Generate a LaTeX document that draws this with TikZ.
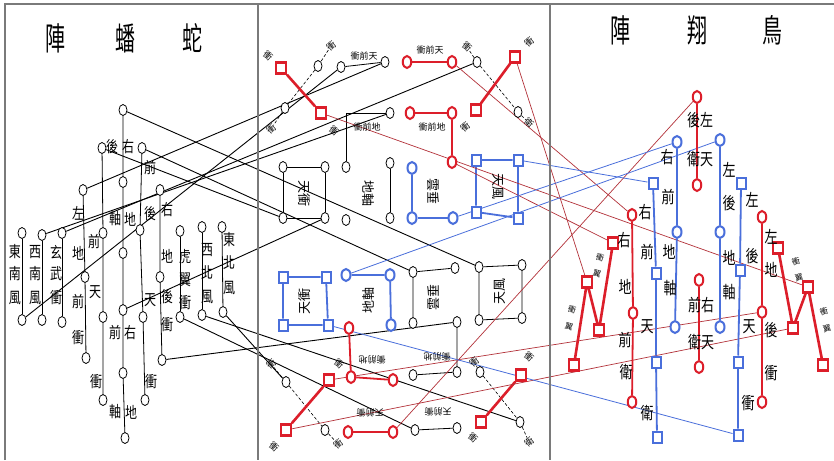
\documentclass[tikz,border=0pt]{standalone}
\usepackage{fontspec}
\newfontfamily\cjk{Noto Sans CJK TC}
\usetikzlibrary{shapes.geometric}
\pgfdeclarelayer{back}
\pgfsetlayers{back,main}
\definecolor{qred}{HTML}{DC1E2A}
\definecolor{qredthin}{HTML}{B3323A}
\definecolor{qblue}{HTML}{4A6FDB}
\definecolor{qframe}{HTML}{7A7A7A}
\newcommand\tallch[2][1.3]{\scalebox{1}[#1]{#2}}
\begin{document}
\begin{tikzpicture}[x=1pt,y=-1pt,
  kc/.style={ellipse,draw=black,fill=white,line width=0.8pt,minimum width=8pt,minimum height=11pt,inner sep=0pt},
  rc/.style={ellipse,draw=qred,fill=white,line width=2pt,minimum width=8.5pt,minimum height=12pt,inner sep=0pt},
  bcirc/.style={ellipse,draw=qblue,fill=white,line width=2pt,minimum width=9pt,minimum height=12pt,inner sep=0pt},
  rsq/.style={rectangle,draw=qred,fill=white,line width=2.4pt,minimum width=10pt,minimum height=11pt,inner sep=0pt},
  bsq/.style={rectangle,draw=qblue,fill=white,line width=2pt,minimum width=9pt,minimum height=11pt,inner sep=0pt},
  lab/.style={font=\cjk\fontsize{12}{12}\selectfont,inner sep=0pt},
  rlab/.style={font=\cjk\fontsize{13}{13}\selectfont,inner sep=0pt},
  small/.style={font=\cjk\fontsize{9}{9}\selectfont,inner sep=0pt},
  tiny/.style={font=\cjk\fontsize{8}{8}\selectfont,inner sep=0pt},
  boxtxt/.style={font=\cjk\fontsize{13}{13}\selectfont,inner sep=0pt},
  titletxt/.style={font=\cjk\fontsize{20}{20}\selectfont,inner sep=0pt},
  kline/.style={black,line width=0.9pt},
  klink/.style={black,line width=0.8pt},
  kdash/.style={black,line width=0.6pt,densely dashed},
  rthick/.style={qred,line width=2.6pt},
  rlink/.style={qred,line width=1.8pt},
  rthin/.style={qredthin,line width=0.7pt},
  blink/.style={qblue,line width=1.8pt},
  bthin/.style={qblue,line width=0.8pt},
]
\useasboundingbox (0,0) rectangle (834,460);
\begin{pgfonlayer}{back}
\fill[white] (0,0) rectangle (834,460);
\end{pgfonlayer}
% frame and panel dividers
\draw[qframe,line width=1.3pt] (5,460) -- (5,4) -- (834,4);
\draw[qframe,line width=1.1pt] (258,4) -- (258,460);
\draw[qframe,line width=1.1pt] (550,4) -- (550,460);

% ---------- titles ----------
\node[titletxt] (tl1) at (55,38) {\tallch[1.6]{陣}};
\node[titletxt] (tl2) at (125,38) {\tallch[1.6]{蟠}};
\node[titletxt] (tl3) at (192,38) {\tallch[1.6]{蛇}};
\node[titletxt] (tr1) at (620,30) {\tallch[1.6]{陣}};
\node[titletxt] (tr2) at (697,30) {\tallch[1.6]{翔}};
\node[titletxt] (tr3) at (772,30) {\tallch[1.6]{鳥}};

% ---------- coiled snake formation ----------
\foreach \n/\x/\y in {k1/123/110,k2/102/148,k3/142/148,k4/123/182,k5/83/190,k6/160/190,
  k7/22/233,k8/42/235,k9/62/233,k10/103/233,k11/140/230,k12/180/231,k13/202/227,k14/222/227,
  k15/123/253,k16/85/277,k17/160/277,
  k18/22/320,k19/42/320,k20/62/322,k21/103/317,k22/123/310,k23/143/317,k24/180/317,k25/202/315,k26/223/312,
  k27/86/358,k28/162/360,k29/123/373,k30/103/400,k31/145/400,k32/125/438}
  \node[kc] (\n) at (\x,\y) {};

\foreach \c/\x/\y [count=\i] in {東/15/252,南/15/274,風/15/298,
  西/35/252,南/35/274,風/35/298,
  玄/56/252,武/56/274,衝/56/298,
  左/78/213,地/78/253,前/78/302,衝/78/338,
  前/94/242,天/95/292,衝/96/382,
  後/112/147,右/128/147,
  軸/115/219,地/130/219,
  前/115/333,右/130/333,
  軸/115/412,地/131/412,
  前/150/168,後/150/214,天/150/300,衝/151/382,
  右/167/210,地/167/256,後/167/297,衝/167/325,
  虎/185/257,翼/185/280,衝/185/303,
  西/207/250,北/207/273,風/207/297,
  東/229/240,北/229/263,風/229/288}
  \node[lab] (ls\i) at (\x,\y) {\tallch{\c}};

% ---------- middle panel: upper half ----------
% crossed wings, upper left
\node[rsq] (ms1) at (281,68) {};
\node[rsq] (ms2) at (321,113) {};
\node[kc] (mk1) at (318,66) {};
\node[kc] (mk2) at (285,108) {};
% crossed wings, upper right
\node[rsq] (ms3) at (515,57) {};
\node[rsq] (ms4) at (476,110) {};
\node[kc] (mk3) at (477,62) {};
\node[kc] (mk4) at (518,112) {};
% front rows
\node[kc] (mc1) at (341,67) {};
\node[kc] (mc2) at (385,62) {};
\node[kc] (mc3) at (390,113) {};
\node[kc] (mc4) at (346,167) {};
\node[rc] (mr1) at (407,62) {};
\node[rc] (mr2) at (452,62) {};
\node[rc] (mr3) at (410,113) {};
\node[rc] (mr4) at (452,113) {};
\node[rc] (mr5) at (452,162) {};
% boxes
\node[kc] (mb1a) at (283,167) {};
\node[kc] (mb1b) at (325,167) {};
\node[kc] (mb1c) at (283,218) {};
\node[kc] (mb1d) at (325,218) {};
\node[kc] (mb2b) at (390,163) {};
\node[kc] (mb2c) at (390,218) {};
\node[kc] (mb2d) at (346,220) {};
\node[bcirc] (mu3a) at (412,168) {};
\node[bcirc] (mu3c) at (412,218) {};
\node[bcirc] (mu3d) at (453,218) {};
\node[bsq] (mu4a) at (476,160) {};
\node[bsq] (mu4b) at (518,160) {};
\node[bsq] (mu4c) at (476,212) {};
\node[bsq] (mu4d) at (518,218) {};

\node[small] (mt1) at (364,56) {衝前天};
\node[small] (mt2) at (430,50) {衝前天};
\node[small] (mt3) at (367,127) {衝前地};
\node[small] (mt4) at (432,127) {衝前地};
\node[small,rotate=-40] (mt5) at (268,56) {衝};
\node[small,rotate=40] (mt6) at (331,46) {衝};
\node[small,rotate=40] (mt7) at (271,129) {衝};
\node[small,rotate=-40] (mt8) at (334,131) {衝};
\node[small,rotate=-40] (mt9) at (467,47) {衝};
\node[small,rotate=40] (mt10) at (529,42) {衝};
\node[small,rotate=40] (mt11) at (465,127) {衝};
\node[small,rotate=-40] (mt12) at (529,123) {衛};
\node[boxtxt,rotate=-90] (mt13) at (304,193) {天衝};
\node[boxtxt,rotate=-90] (mt14) at (368,193) {地軸};
\node[boxtxt,rotate=-90] (mt15) at (433,191) {雲垂};
\node[boxtxt,rotate=-90] (mt16) at (498,186) {天風};

% ---------- middle panel: lower half ----------
\node[bsq] (mv1a) at (283,277) {};
\node[bsq] (mv1b) at (326,277) {};
\node[bsq] (mv1c) at (283,325) {};
\node[bsq] (mv1d) at (328,325) {};
\node[bcirc] (mv2a) at (346,275) {};
\node[bcirc] (mv2b) at (390,275) {};
\node[bcirc] (mv2d) at (391,325) {};
\node[kc] (mn3a) at (413,272) {};
\node[kc] (mn3b) at (455,268) {};
\node[kc] (mn3c) at (413,323) {};
\node[kc] (mn3d) at (457,322) {};
\node[kc] (mn4a) at (479,267) {};
\node[kc] (mn4b) at (522,265) {};
\node[kc] (mn4c) at (479,320) {};
\node[kc] (mn4d) at (522,318) {};
\node[rc] (mr6) at (349,328) {};
\node[rc] (mr7) at (351,377) {};
\node[rc] (mr8) at (393,380) {};
\node[rc] (mr9) at (348,432) {};
\node[rc] (mr10) at (393,432) {};
\node[kc] (mn5) at (457,372) {};
\node[kc] (mn6) at (413,375) {};
\node[kc] (mn7) at (415,430) {};
\node[kc] (mn8) at (457,428) {};
\node[rsq] (ms5) at (329,380) {};
\node[rsq] (ms6) at (286,430) {};
\node[kc] (mk5) at (286,382) {};
\node[kc] (mk6) at (325,430) {};
\node[rsq] (ms7) at (521,375) {};
\node[rsq] (ms8) at (481,422) {};
\node[kc] (mk7) at (480,372) {};
\node[kc] (mk8) at (520,422) {};

\node[boxtxt,rotate=90] (mt17) at (305,301) {天衝};
\node[boxtxt,rotate=90] (mt18) at (369,300) {地軸};
\node[boxtxt,rotate=90] (mt19) at (434,297) {雲垂};
\node[boxtxt,rotate=90] (mt20) at (500,291) {天風};
\node[small,rotate=180] (mt21) at (372,360) {衝前地};
\node[small,rotate=180] (mt22) at (437,357) {衝前地};
\node[small,rotate=180] (mt23) at (370,413) {天前衝};
\node[small,rotate=180] (mt24) at (438,412) {天前衝};
\node[small,rotate=40] (mt25) at (271,364) {衝};
\node[small,rotate=-40] (mt26) at (339,364) {衝};
\node[small,rotate=-40] (mt27) at (274,447) {衝};
\node[small,rotate=40] (mt28) at (338,444) {衝};
\node[small,rotate=40] (mt29) at (474,362) {衝};
\node[small,rotate=-40] (mt30) at (529,357) {衝};
\node[small,rotate=-40] (mt31) at (473,438) {衝};
\node[small,rotate=40] (mt32) at (529,442) {衛};

% ---------- soaring bird formation ----------
\node[rc] (q1) at (697,97) {};
\node[rc] (q2) at (697,185) {};
\node[bcirc] (q3) at (720,140) {};
\node[bcirc] (q4) at (720,232) {};
\node[bcirc] (q5) at (720,327) {};
\node[bsq] (q6) at (741,183) {};
\node[bsq] (q7) at (740,270) {};
\node[bsq] (q8) at (738,362) {};
\node[bsq] (q9) at (738,435) {};
\node[rc] (q10) at (762,217) {};
\node[rc] (q11) at (762,312) {};
\node[rc] (q12) at (762,402) {};
\node[rsq] (q13) at (778,248) {};
\node[rsq] (q14) at (793,328) {};
\node[rsq] (q15) at (808,287) {};
\node[rsq] (q16) at (823,365) {};
\node[rc] (q17) at (699,280) {};
\node[rc] (q18) at (699,367) {};
\node[bcirc] (q19) at (677,142) {};
\node[bcirc] (q20) at (677,232) {};
\node[bcirc] (q21) at (675,327) {};
\node[bsq] (q22) at (653,183) {};
\node[bsq] (q23) at (656,273) {};
\node[bsq] (q24) at (656,362) {};
\node[bsq] (q25) at (657,437) {};
\node[rc] (q26) at (632,215) {};
\node[rc] (q27) at (633,313) {};
\node[rc] (q28) at (632,402) {};
\node[rsq] (q29) at (613,243) {};
\node[rsq] (q30) at (599,330) {};
\node[rsq] (q31) at (587,282) {};
\node[rsq] (q32) at (574,365) {};

\node[rlab] (rp1) at (700,120) {\tallch{後左}};
\node[rlab] (rp2) at (700,159) {\tallch{衛天}};
\node[rlab] (rp3) at (701,305) {\tallch{前右}};
\node[rlab] (rp4) at (701,342) {\tallch{衛天}};
\foreach \c/\x/\y [count=\i] in {左/729/170,後/729/203,地/729/258,軸/729/292,
  左/752/200,後/752/256,天/749/327,衝/748/403,
  左/771/237,地/771/270,後/771/330,衝/771/373,
  右/667/157,前/668/197,地/669/252,軸/670/288,
  右/645/212,前/647/252,天/647/327,衛/647/413,
  右/624/240,地/625/287,前/625/340,衛/626/372}
  \node[rlab] (rs\i) at (\x,\y) {\tallch{\c}};
% wing tip labels beside the zigzags
\node[tiny,rotate=-15] (rz1) at (600,258) {衝};
\node[tiny,rotate=-15] (rz2) at (597,274) {翼};
\node[tiny,rotate=-15] (rz3) at (572,310) {衝};
\node[tiny,rotate=-15] (rz4) at (569,327) {翼};
\node[tiny,rotate=15] (rz5) at (796,262) {衝};
\node[tiny,rotate=15] (rz6) at (799,278) {翼};
\node[tiny,rotate=15] (rz7) at (824,312) {衝};
\node[tiny,rotate=15] (rz8) at (827,329) {翼};

% ---------- connectors ----------
\begin{pgfonlayer}{back}
% snake formation links
\draw[klink] (k1) -- (k4) -- (k15) -- (k22) -- (k29) -- (k32);
\draw[klink] (k2) -- (k10) -- (k21) -- (k30);
\draw[klink] (k5) -- (k16) -- (k27);
\draw[klink] (k3) -- (k11) -- (k23) -- (k31);
\draw[klink] (k6) -- (k17) -- (k28);
\draw[klink] (k7) -- (k18);
\draw[klink] (k8) -- (k19);
\draw[klink] (k9) -- (k20);
\draw[klink] (k12) -- (k24);
\draw[klink] (k13) -- (k25);
\draw[klink] (k14) -- (k26);
% snake to middle
\draw[kline] (k1) -- (mn4a);
\draw[kline] (k3) -- (mn3a);
\draw[kline] (k2) -- (mb1c);
\draw[kline] (k18) -- (mc1);
\draw[kline] (k8) -- (mc3);
\draw[kline] (k9) -- (mk3);
\draw[kline] (k5) -- (mc2);
\draw[kline] (k22) -- (mb1d);
\draw[kline] (k24) -- (mn7);
\draw[kline] (k25) -- (mk8);
\draw[kline] (k26) -- (mk5);
\draw[kline] (k28) -- (mn3d);
% middle panel black frames
\draw[klink] (mc1) -- (mc2);
\draw[klink] (mc3) -| (mc4);
\draw[klink] (mb1a) -- (mb1b) -- (mb1d) -- (mb1c) -- (mb1a);
\draw[klink] (mb2b) -- (mb2c);
\draw[klink] (mn3b) -- (mn3a) -- (mn3c);
\draw[klink] (mn4a) -- (mn4b) -- (mn4d) -- (mn4c) -- (mn4a);
\draw[klink] (mn3d) -- (mn5) -- (mn6);
\draw[klink] (mn7) -- (mn8);
\draw[kdash] (mt6) -- (mk1) -- (mk2) -- (mt7);
\draw[kdash] (mt9) -- (mk3) -- (mk4) -- (mt12);
\draw[kdash] (mt25) -- (mk5) -- (mk6) -- (mt28);
\draw[kdash] (mt29) -- (mk7) -- (mk8) -- (mt32);
% middle panel red and blue frames
\draw[rthick] (ms1) -- (ms2);
\draw[rthick] (ms3) -- (ms4);
\draw[rthick] (ms5) -- (ms6);
\draw[rthick] (ms7) -- (ms8);
\draw[rlink] (mr1) -- (mr2);
\draw[rlink] (mr3) -- (mr4) -- (mr5);
\draw[rlink] (mr6) -- (mr7) -- (mr8);
\draw[rlink] (mr9) -- (mr10);
\draw[blink] (mu3a) -- (mu3c) -- (mu3d);
\draw[blink] (mu4a) -- (mu4b) -- (mu4d) -- (mu4c) -- (mu4a);
\draw[blink] (mv1a) -- (mv1b) -- (mv1d) -- (mv1c) -- (mv1a);
\draw[blink] (mv2a) -- (mv2b) -- (mv2d);
% middle to bird formation
\draw[rthin] (ms2) -- (q15);
\draw[rthin] (mr2) -- (q26);
\draw[rthin] (ms3) -- (q31);
\draw[rthin] (mr10) -- (q1);
\draw[rthin] (ms5) -- (q11);
\draw[rthin] (ms6) -- (q14);
\draw[rthin] (mr5) -- (q29);
\draw[bthin] (mu4b) -- (q22);
\draw[bthin] (mu3d) -- (q19);
\draw[bthin] (mv2a) -- (q3);
\draw[bthin] (mv1d) -- (q9);
% bird formation links
\draw[rlink] (q1) -- (q2);
\draw[rlink] (q10) -- (q11) -- (q12);
\draw[rlink] (q17) -- (q18);
\draw[rlink] (q26) -- (q27) -- (q28);
\draw[blink] (q3) -- (q4) -- (q5);
\draw[blink] (q6) -- (q7) -- (q8) -- (q9);
\draw[blink] (q19) -- (q20) -- (q21);
\draw[blink] (q22) -- (q23) -- (q24) -- (q25);
\draw[rthick] (q13) -- (q14) -- (q15) -- (q16);
\draw[rthick] (q29) -- (q30) -- (q31) -- (q32);
\end{pgfonlayer}
\end{tikzpicture}
\end{document}
